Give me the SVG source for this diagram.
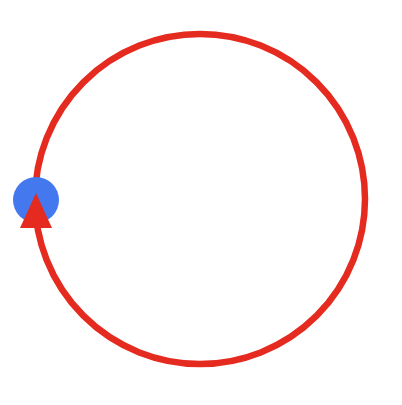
<svg xmlns="http://www.w3.org/2000/svg" width="402" height="405" viewBox="0 0 402 405">
<style>
.ring{fill:none;stroke:#e52b1f;stroke-width:6.5}
.dot{fill:#4478ef}
.head{fill:#e52b1f}
</style>
<rect width="402" height="405" fill="#ffffff"/>
<g id="connectors">
<circle class="ring" cx="200" cy="199" r="165"/>
</g>
<g id="node-start">
<circle class="dot" cx="36" cy="200" r="23"/>
</g>
<g id="arrowhead">
<polygon class="head" points="36,193 20,228 52,228"/>
</g>
</svg>
